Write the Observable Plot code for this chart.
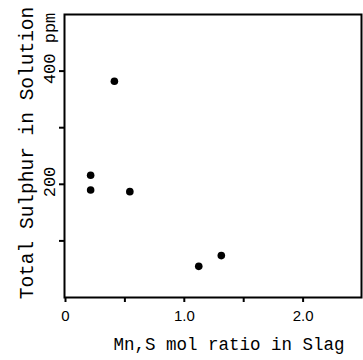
<!DOCTYPE html>
<html>
<head>
<meta charset="utf-8">
<script src="https://cdn.jsdelivr.net/npm/d3@7"></script>
<script src="https://cdn.jsdelivr.net/npm/@observablehq/plot@0.6"></script>
<style>
  html, body { margin: 0; padding: 0; background: #fff; }
</style>
</head>
<body>
<div id="chart"></div>
<script>
// Data
const mnSRatio = [0.42, 0.22, 0.22, 0.55, 1.13, 1.32];
const totalSulphur = [382, 216, 190, 187, 55, 74];

const xTickValues = [0, 0.5, 1.0, 1.5, 2.0];
const xTickLabels = ["0", "", "1.0", "", "2.0"];
const yTickValues = [100, 200, 300, 400];
const yLabelValues = [200, 400];
const yLabelTexts = ["200", "400 ppm"];

const xTitle = "Mn,S mol ratio in Slag";
const yTitle = "Total Sulphur in Solution";

const points = mnSRatio.map((x, i) => ({x, y: totalSulphur[i]}));
const yLabels = yLabelValues.map((v, i) => ({v, t: yLabelTexts[i]}));

const mono = "Liberation Mono, DejaVu Sans Mono, monospace";

const chart = Plot.plot({
  width: 363,
  height: 360,
  marginLeft: 64,
  marginTop: 14,
  marginRight: 2,
  marginBottom: 63,
  style: {background: "#fff", color: "#000", fontFamily: mono},
  x: {domain: [0, 2.5]},
  y: {domain: [0, 500]},
  marks: [
    Plot.axisX({
      ticks: xTickValues,
      tickSize: 5,
      tickPadding: 8,
      strokeWidth: 2,
      tickFormat: (d) => xTickLabels[xTickValues.indexOf(d)],
      fontSize: 15,
      fontFamily: "Liberation Sans, Arial, sans-serif",
      dx: 1,
      label: null
    }),
    Plot.axisY({
      ticks: yTickValues,
      tickSize: 5,
      strokeWidth: 2,
      tickFormat: () => "",
      label: null
    }),
    Plot.text(yLabels, {
      y: "v",
      text: "t",
      frameAnchor: "left",
      rotate: -90,
      textAnchor: "start",
      lineAnchor: "middle",
      dx: -15,
      dy: 13,
      fontSize: 17,
      fontFamily: mono
    }),
    Plot.frame({stroke: "#000", strokeWidth: 2}),
    Plot.dot(points, {x: "x", y: "y", r: 3.8, fill: "#000", stroke: "none"}),
    Plot.text([xTitle], {
      text: d => d,
      frameAnchor: "bottom",
      textAnchor: "middle",
      lineAnchor: "middle",
      dy: 47,
      dx: 16,
      fontSize: 17.5,
      fontFamily: mono
    }),
    Plot.text([yTitle], {
      text: d => d,
      frameAnchor: "left",
      rotate: -90,
      textAnchor: "middle",
      lineAnchor: "middle",
      dx: -38,
      dy: -3,
      fontSize: 19.5,
      fontFamily: mono
    })
  ]
});

document.getElementById("chart").appendChild(chart);
</script>
</body>
</html>
